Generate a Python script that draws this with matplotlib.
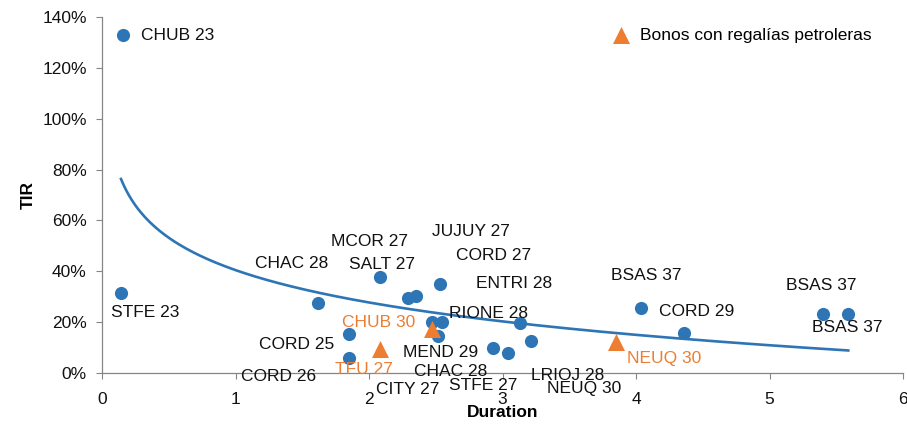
import matplotlib.pyplot as plt
import numpy as np
from matplotlib.ticker import PercentFormatter


FILE = 'out.png'

BLUE = '#2E75B6'
ORANGE = '#ED7D31'

# Provincial bonds: duration (years) and TIR (%)
BOND_NAMES = ['CHUB 23', 'STFE 23', 'CHAC 28', 'CORD 25', 'CORD 26', 'SALT 27',
              'MCOR 27', 'JUJUY 27', 'CORD 27', 'ENTRI 28', 'MEND 29', 'RIONE 28',
              'CHAC 28', 'CITY 27', 'STFE 27', 'LRIOJ 28', 'BSAS 37',
              'CORD 29', 'BSAS 37', 'BSAS 37']
BOND_DURATION = [0.157, 0.142, 1.62, 1.85, 1.85, 2.08,
                 2.29, 2.35, 2.53, 2.55, 2.47, 3.13,
                 2.52, 2.93, 3.04, 3.21, 4.04,
                 4.36, 5.40, 5.59]
BOND_TIR = [132.9, 31.5, 27.4, 15.2, 6.0, 37.6,
            29.3, 30.4, 34.9, 20.0, 20.0, 19.5,
            14.5, 10.0, 8.0, 12.7, 25.7,
            15.6, 23.2, 23.2]

# Bonds backed by oil royalties
OIL_NAMES = ['CHUB 30', 'TFU 27', 'NEUQ 30']
OIL_DURATION = [2.47, 2.08, 3.85]
OIL_TIR = [17.3, 9.4, 12.0]
OIL_LABEL = 'Bonos con regalías petroleras'

# Data label offsets in pixels (dragged labels in the original)
BOND_LABEL_OFFSETS = [(18, 0), (24, -20), (-27, 40), (-52, -10), (-70, -19), (2, 13),
                      (-38, 57), (55, 64), (54, 29), (72, 39), (9, -30), (-31, 10),
                      (12, -35), (-85, -42), (-25, -33), (37, -35), (5, 32),
                      (13, 22), (-2, 28), (-1, -14)]
OIL_LABEL_OFFSETS = [(-53, 6), (-16, -20), (48, -16)]
# NEUQ 30 also keeps a black label from the general series
NEUQ_BLACK_OFFSET = (-32, -46)


def main():
    plt.rcParams['font.family'] = ['Liberation Sans', 'DejaVu Sans']
    plt.rcParams['font.size'] = 12.5

    fig = plt.figure(figsize=(9.07, 4.24), dpi=100)
    ax = fig.add_axes([0.1125, 0.1203, 0.8831, 0.8397])

    # Logarithmic trend line fitted to the provincial bonds
    x = np.array(BOND_DURATION)
    y = np.array(BOND_TIR)
    b, a = np.polyfit(np.log(x), y, 1)
    xs = np.linspace(x.min(), x.max(), 300)
    ax.plot(xs, a + b * np.log(xs), color=BLUE, lw=1.9, zorder=2)

    ax.scatter(BOND_DURATION, BOND_TIR, s=90, color=BLUE, zorder=3, linewidths=0)
    ax.scatter(OIL_DURATION, OIL_TIR, s=150, marker='^', color=ORANGE, zorder=4,
               linewidths=0, label=OIL_LABEL)

    for name, px, py, off in zip(BOND_NAMES, BOND_DURATION, BOND_TIR, BOND_LABEL_OFFSETS):
        ha = 'left' if name == 'CHUB 23' else 'center'
        ax.annotate(name, (px, py), xytext=off, textcoords='offset pixels',
                    ha=ha, va='center', color='#111111', zorder=5)
    for name, px, py, off in zip(OIL_NAMES, OIL_DURATION, OIL_TIR, OIL_LABEL_OFFSETS):
        ax.annotate(name, (px, py), xytext=off, textcoords='offset pixels',
                    ha='center', va='center', color=ORANGE, zorder=5)
    ax.annotate(OIL_NAMES[2], (OIL_DURATION[2], OIL_TIR[2]), xytext=NEUQ_BLACK_OFFSET,
                textcoords='offset pixels', ha='center', va='center',
                color='#111111', zorder=5)

    ax.set_xlim(0, 6)
    ax.set_ylim(0, 140)
    ax.set_xticks(range(0, 7))
    ax.set_yticks(range(0, 141, 20))
    ax.yaxis.set_major_formatter(PercentFormatter(decimals=0))

    for side in ['top', 'right']:
        ax.spines[side].set_visible(False)
    for side in ['left', 'bottom']:
        ax.spines[side].set_color('#868686')
        ax.spines[side].set_linewidth(0.9)
    ax.tick_params(axis='both', color='#868686', length=4, labelcolor='#111111')
    ax.tick_params(axis='x', pad=10)
    ax.tick_params(axis='y', pad=7)

    ax.set_xlabel('Duration', fontweight='bold', labelpad=-2)
    ax.set_ylabel('TIR', fontweight='bold', labelpad=5)

    ax.legend(loc='upper right', frameon=False, handletextpad=0.1,
              bbox_to_anchor=(0.969, 0.99), borderaxespad=0)

    fig.savefig(FILE)


if __name__ == '__main__':
    main()
